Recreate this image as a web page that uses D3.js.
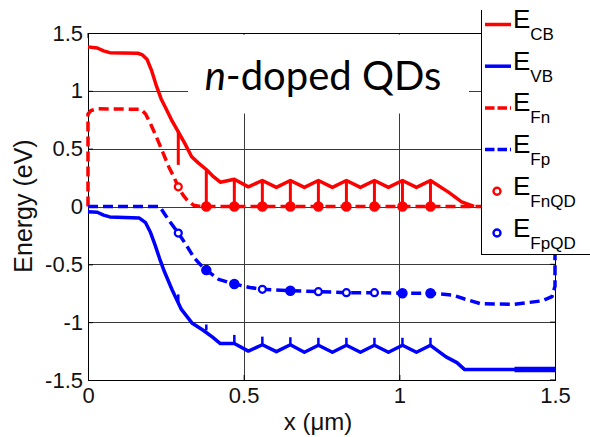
<!DOCTYPE html>
<html>
<head>
<meta charset="utf-8">
<script src="https://cdn.jsdelivr.net/npm/d3@7"></script>
<style>
  html, body { margin: 0; padding: 0; background: #fff; }
  svg { display: block; }
</style>
</head>
<body>
<svg id="chart" width="590" height="437"></svg>
<script>
// ---------------- DATA ----------------
const xTicks = [0, 0.5, 1, 1.5];
const xTickLabels = ["0", "0.5", "1", "1.5"];
const yTicks = [-1.5, -1, -0.5, 0, 0.5, 1, 1.5];
const yTickLabels = ["-1.5", "-1", "-0.5", "0", "0.5", "1", "1.5"];
const xGrid = [0.5, 1];
const yGrid = [-1, -0.5, 0, 0.5, 1];

// Conduction band edge E_CB  [x (um), E (eV)]
const ecb = [[0,1.38],[0.03,1.37],[0.05,1.345],[0.07,1.33],[0.16,1.325],[0.175,1.31],[0.19,1.27],
  [0.205,1.17],[0.22,1.04],[0.235,0.93],[0.25,0.85],[0.27,0.74],[0.29,0.645],[0.31,0.55],[0.333,0.43],
  [0.355,0.375],[0.38,0.32],[0.40,0.265],[0.425,0.21],[0.47,0.235],[0.515,0.17],[0.56,0.225],
  [0.605,0.165],[0.65,0.225],[0.695,0.165],[0.74,0.225],[0.785,0.165],[0.83,0.225],[0.875,0.165],
  [0.92,0.225],[0.965,0.165],[1.01,0.225],[1.055,0.165],[1.10,0.225],[1.16,0.12],[1.20,0.04],[1.24,0.0]];

// Valence band edge E_VB
const evb = [[0,-0.045],[0.03,-0.05],[0.05,-0.075],[0.07,-0.09],[0.165,-0.10],[0.185,-0.14],[0.20,-0.22],
  [0.215,-0.33],[0.23,-0.45],[0.245,-0.56],[0.27,-0.72],[0.30,-0.89],[0.335,-1.01],[0.37,-1.07],
  [0.40,-1.13],[0.425,-1.185],[0.47,-1.185],[0.515,-1.25],[0.56,-1.195],[0.605,-1.255],[0.65,-1.195],
  [0.695,-1.26],[0.74,-1.2],[0.785,-1.26],[0.83,-1.2],[0.875,-1.26],[0.92,-1.2],[0.965,-1.26],
  [1.01,-1.2],[1.055,-1.26],[1.10,-1.2],[1.15,-1.30],[1.185,-1.35],[1.21,-1.41],[1.5,-1.41]];
const evbEdge = [[1.37,-1.41],[1.5,-1.41]];

// Electron quasi-Fermi level E_Fn
const efn = [[0,0],[0,0.8],[0.01,0.83],[0.03,0.845],[0.17,0.84],[0.185,0.8],[0.20,0.72],[0.22,0.60],
  [0.24,0.47],[0.26,0.34],[0.275,0.26],[0.29,0.17],[0.305,0.10],[0.32,0.05],[0.34,0.01],[0.36,0],[1.5,0]];

// Hole quasi-Fermi level E_Fp
const efp = [[0,0],[0.23,0],[0.245,-0.06],[0.26,-0.12],[0.29,-0.23],[0.315,-0.33],[0.34,-0.44],
  [0.36,-0.50],[0.38,-0.55],[0.42,-0.63],[0.47,-0.67],[0.52,-0.70],[0.56,-0.716],[0.65,-0.728],
  [0.74,-0.736],[0.83,-0.745],[0.92,-0.745],[1.01,-0.75],[1.10,-0.75],[1.17,-0.765],[1.21,-0.80],
  [1.26,-0.84],[1.37,-0.845],[1.46,-0.815],[1.49,-0.78],[1.5,-0.69],[1.5,0]];

// Quantum-dot positions and levels
const qdX = [0.29, 0.38, 0.47, 0.56, 0.65, 0.74, 0.83, 0.92, 1.01, 1.10];
const ecbStemTop = [0.65, 0.32, 0.235, 0.225, 0.225, 0.225, 0.225, 0.225, 0.225, 0.225];
const ecbStemBottom = [0.36, 0, 0, 0, 0, 0, 0, 0, 0, 0];
const evbTickBase = [-0.83, -1.07, -1.185, -1.195, -1.195, -1.2, -1.2, -1.2, -1.2, -1.2];
const evbTickTop = [-0.76, -1.02, -1.11, -1.125, -1.13, -1.135, -1.135, -1.135, -1.135, -1.135];
const efnQD = [0.17, 0, 0, 0, 0, 0, 0, 0, 0, 0];
const efnQDFilled = [false, true, true, true, true, true, true, true, true, true];
const efpQD = [-0.23, -0.55, -0.67, -0.716, -0.728, -0.736, -0.745, -0.745, -0.75, -0.75];
const efpQDFilled = [false, true, true, false, true, false, false, false, true, true];

const legendItems = [
  {sub: "CB", color: "#ff0000", type: "solid"},
  {sub: "VB", color: "#0000ff", type: "solid"},
  {sub: "Fn", color: "#ff0000", type: "dash"},
  {sub: "Fp", color: "#0000ff", type: "dash"},
  {sub: "FnQD", color: "#ff0000", type: "marker"},
  {sub: "FpQD", color: "#0000ff", type: "marker"}
];

// ---------------- CHART ----------------
const RED = "#ff0000", BLUE = "#0000ff";
const svg = d3.select("#chart");
const x = d3.scaleLinear().domain([0, 1.5]).range([88, 555]);
const y = d3.scaleLinear().domain([-1.5, 1.5]).range([380, 33]);
const line = d3.line().x(d => x(d[0])).y(d => y(d[1]));

// grid
const grid = svg.append("g").attr("stroke", "#3a3a3a").attr("stroke-width", 1);
grid.selectAll("line.gy").data(yGrid).join("line")
  .attr("x1", x(0)).attr("x2", x(1.5))
  .attr("y1", d => Math.round(y(d)) + 0.5).attr("y2", d => Math.round(y(d)) + 0.5);
grid.selectAll("line.gx").data(xGrid).join("line")
  .attr("y1", y(-1.5)).attr("y2", y(1.5))
  .attr("x1", d => Math.round(x(d)) + 0.5).attr("x2", d => Math.round(x(d)) + 0.5);

// axes
const fontAxis = "'Liberation Sans', Arial, sans-serif";
const xAxis = d3.axisBottom(x).tickValues(xTicks).tickFormat((d, i) => xTickLabels[i])
  .tickSizeInner(-5).tickSizeOuter(0).tickPadding(7);
const gx = svg.append("g").attr("transform", `translate(0,${y(-1.5)})`).call(xAxis);
const yAxis = d3.axisLeft(y).tickValues(yTicks).tickFormat((d, i) => yTickLabels[i])
  .tickSizeInner(-5).tickSizeOuter(0).tickPadding(5);
const gy = svg.append("g").attr("transform", `translate(${x(0)},0)`).call(yAxis);
[gx, gy].forEach(g => {
  g.select(".domain").remove();
  g.selectAll("text").attr("font-family", fontAxis).attr("font-size", 22).attr("fill", "#111");
  g.selectAll("line").attr("stroke", "#000");
});
// top & right ticks
svg.append("g").selectAll("line").data(xTicks).join("line")
  .attr("x1", d => x(d)).attr("x2", d => x(d)).attr("y1", y(1.5)).attr("y2", y(1.5) + 5).attr("stroke", "#000");
svg.append("g").selectAll("line").data(yTicks).join("line")
  .attr("y1", d => y(d)).attr("y2", d => y(d)).attr("x1", x(1.5)).attr("x2", x(1.5) - 5).attr("stroke", "#000");
// box
svg.append("rect").attr("x", x(0) + 0.5).attr("y", y(1.5) + 0.5)
  .attr("width", x(1.5) - x(0)).attr("height", y(-1.5) - y(1.5))
  .attr("fill", "none").attr("stroke", "#000").attr("stroke-width", 1);

// title box (white background covering grid)
svg.append("rect").attr("x", 188).attr("y", y(1.5) + 1.5).attr("width", 281).attr("height", 79).attr("fill", "#fff");
const title = svg.append("text").attr("x", 323).attr("y", 90).attr("text-anchor", "middle")
  .attr("font-family", "Lato, 'Open Sans', sans-serif").attr("font-size", 40).attr("fill", "#000");
title.append("tspan").attr("font-style", "italic").text("n");
title.append("tspan").text("-doped QDs");

// curves
const curves = svg.append("g").attr("fill", "none").attr("stroke-linejoin", "round");
curves.append("path").datum(efn).attr("d", line).attr("stroke", RED).attr("stroke-width", 3.5).attr("stroke-dasharray", "10,5");
curves.append("path").datum(efp).attr("d", line).attr("stroke", BLUE).attr("stroke-width", 3.5).attr("stroke-dasharray", "10,5");
curves.append("path").datum(ecb).attr("d", line).attr("stroke", RED).attr("stroke-width", 3.5);
curves.append("path").datum(evb).attr("d", line).attr("stroke", BLUE).attr("stroke-width", 3.5);
curves.append("path").datum(evbEdge).attr("d", line).attr("stroke", BLUE).attr("stroke-width", 5.5);

// stems from E_CB to QD level
svg.append("g").selectAll("line").data(qdX).join("line")
  .attr("x1", d => x(d)).attr("x2", d => x(d))
  .attr("y1", (d, i) => y(ecbStemTop[i])).attr("y2", (d, i) => y(ecbStemBottom[i]))
  .attr("stroke", RED).attr("stroke-width", 3);
// ticks on E_VB
svg.append("g").selectAll("line").data(qdX).join("line")
  .attr("x1", d => x(d)).attr("x2", d => x(d))
  .attr("y1", (d, i) => y(evbTickBase[i])).attr("y2", (d, i) => y(evbTickTop[i]))
  .attr("stroke", BLUE).attr("stroke-width", 2.5);

// QD markers
function drawMarkers(vals, filled, color) {
  svg.append("g").selectAll("circle").data(qdX).join("circle")
    .attr("cx", d => x(d)).attr("cy", (d, i) => y(vals[i]))
    .attr("r", (d, i) => filled[i] ? 4.5 : 3.5)
    .attr("fill", (d, i) => filled[i] ? color : "#fff")
    .attr("stroke", color).attr("stroke-width", (d, i) => filled[i] ? 1.5 : 2.2);
}
drawMarkers(efnQD, efnQDFilled, RED);
drawMarkers(efpQD, efpQDFilled, BLUE);

// legend
const lg = svg.append("g");
lg.append("rect").attr("x", 481).attr("y", 10).attr("width", 120).attr("height", 244).attr("fill", "#fff");
lg.append("line").attr("x1", 481.5).attr("x2", 481.5).attr("y1", 10).attr("y2", 254.5).attr("stroke", "#000");
lg.append("line").attr("x1", 481).attr("x2", 590).attr("y1", 254.5).attr("y2", 254.5).attr("stroke", "#000");
const rowY = d3.scaleLinear().domain([0, 5]).range([24.5, 233]);
legendItems.forEach((it, i) => {
  const cy = rowY(i);
  if (it.type === "marker") {
    lg.append("circle").attr("cx", 497).attr("cy", cy).attr("r", 3.5)
      .attr("fill", "#fff").attr("stroke", it.color).attr("stroke-width", 2.4);
  } else {
    lg.append("line").attr("x1", 485).attr("x2", 511).attr("y1", cy).attr("y2", cy)
      .attr("stroke", it.color).attr("stroke-width", 3.5)
      .attr("stroke-dasharray", it.type === "dash" ? "9.5,3" : null);
  }
  const t = lg.append("text").attr("x", 513).attr("y", cy + 3.5)
    .attr("font-family", fontAxis).attr("fill", "#000");
  t.append("tspan").attr("font-size", 26).text("E");
  t.append("tspan").attr("font-size", 17).attr("dy", 12).text(it.sub);
});

// axis labels
svg.append("text").attr("x", 318).attr("y", 430).attr("text-anchor", "middle")
  .attr("font-family", fontAxis).attr("font-size", 24).attr("fill", "#111").text("x (\u03BCm)");
svg.append("text").attr("transform", "translate(32,206) rotate(-90)").attr("text-anchor", "middle")
  .attr("font-family", fontAxis).attr("font-size", 25).attr("fill", "#111").text("Energy (eV)");
</script>
</body>
</html>
